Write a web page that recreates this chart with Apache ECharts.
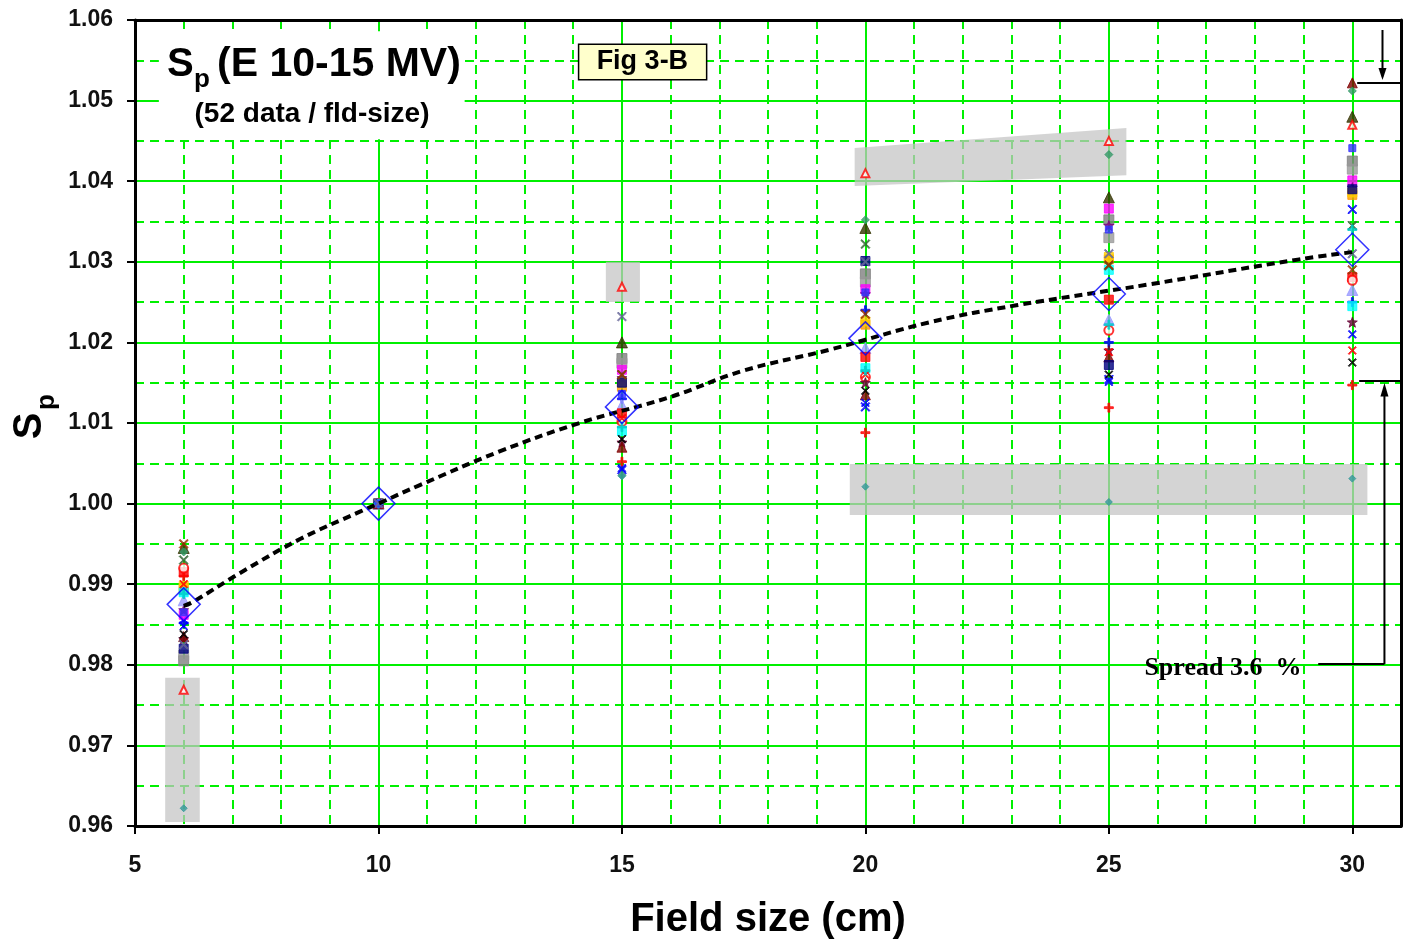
<!DOCTYPE html>
<html>
<head>
<meta charset="utf-8">
<script src="https://cdn.jsdelivr.net/npm/echarts/dist/echarts.min.js"></script>
<style>html,body{margin:0;padding:0;background:#fff}#c{width:1408px;height:945px}</style>
</head>
<body>
<div id="c"></div>
<script>
// ---------------- DATA ----------------
const fieldSizes = [6, 10, 15, 20, 25, 30];
const meanSp = [0.9875, 1.0000, 1.0120, 1.0205, 1.0260, 1.0315];
const fitSize = [6.0, 6.19, 7.16, 8.39, 9.62, 10.0, 10.85, 12.5, 14.13, 15.98, 17.5, 19.27, 21.32, 23.1, 25.83, 28.91, 30.0];
const fitSp = [0.9873, 0.9878, 0.9914, 0.9956, 0.9990, 1.0000, 1.0023, 1.0065, 1.0100, 1.0132, 1.0165, 1.0191, 1.0225, 1.0246, 1.0272, 1.0303, 1.0312];
const xTicks = [5, 10, 15, 20, 25, 30];
const yTicks = [0.96, 0.97, 0.98, 0.99, 1.00, 1.01, 1.02, 1.03, 1.04, 1.05, 1.06];

// individual measurement sets (Sp at 6,10,15,20,25,30 cm)
const spA = [0.9910, 1.0000, 1.0052, 1.0088, 1.0119, 1.0147];
const spB = [0.9852, 1.0000, 1.0130, 1.0240, 1.0200, 1.0250];
const spC = [0.9856, 1.0000, 1.0042, 1.0120, 1.0154, 1.0365];
const spD = [0.9945, 1.0000, 1.0200, 1.0342, 1.0380, 1.0480];
const spE = [0.9805, 1.0000, 1.0180, 1.0285, 1.0352, 1.0425];
const spF = [0.9812, 1.0000, 1.0174, 1.0275, 1.0330, 1.0415];
const spG = [0.9862, 1.0000, 1.0166, 1.0266, 1.0366, 1.0401];
const spH = [0.9868, 1.0000, 1.0156, 1.0260, 1.0345, 1.0392];
const spI = [0.9895, 1.0000, 1.0145, 1.0222, 1.0303, 1.0383];
const spJ = [0.9898, 1.0000, 1.0150, 1.0226, 1.0306, 1.0386];
const spK = [0.9880, 1.0000, 1.0122, 1.0193, 1.0228, 1.0265];
const spL = [0.9915, 1.0000, 1.0112, 1.0182, 1.0253, 1.0281];
const spM = [0.9920, 1.0000, 1.0102, 1.0157, 1.0215, 1.0277];
const spN = [0.9890, 1.0000, 1.0090, 1.0168, 1.0290, 1.0245];
const spO = [0.9832, 1.0000, 1.0076, 1.0150, 1.0190, 1.0225];
const spP = [0.9835, 1.0000, 1.0070, 1.0135, 1.0182, 1.0522];
const spQ = [0.9820, 1.0000, 1.0150, 1.0301, 1.0172, 1.0390];
const spR = [0.9940, 1.0000, 1.0035, 1.0352, 1.0433, 1.0512];
const spS = [0.9930, 1.0000, 1.0160, 1.0322, 1.0295, 1.0345];
const spT = [0.9950, 1.0000, 1.0160, 1.0235, 1.0296, 1.0290];
const spU = [0.9838, 1.0000, 1.0080, 1.0140, 1.0160, 1.0175];
const spV = [0.9769, 1.0000, 1.0269, 1.0410, 1.0450, 1.0470];
const spW = [0.9622, 1.0000, 1.0034, 1.0021, 1.0002, 1.0031];
const spX = [0.9848, 1.0000, 1.0044, 1.0125, 1.0151, 1.0210];
const spY = [0.9900, 1.0000, 1.0106, 1.0160, 1.0188, 1.0190];
const spZ = [0.9888, 1.0000, 1.0095, 1.0165, 1.0222, 1.0340];
const spAA = [0.9865, 1.0000, 1.0136, 1.0262, 1.0340, 1.0441];
const spAB = [0.9825, 1.0000, 1.0232, 1.0300, 1.0310, 1.0310];

// ---------------- STYLE ----------------
const PLUS = 'path://M4,0H6V4H10V6H6V10H4V6H0V4H4Z';
const CROSS = 'path://M1,0L5,4L9,0L10,1L6,5L10,9L9,10L5,6L1,10L0,9L4,5L0,1Z';
const STAR = 'path://M5,0L6.2,3.5L10,3.8L7,6L8.1,10L5,7.7L1.9,10L3,6L0,3.8L3.8,3.5Z';
const sets = [
  [spA, '#ff0000', PLUS, 9], [spB, '#0000ff', PLUS, 9], [spC, '#0000ff', CROSS, 9],
  [spD, '#333300', 'triangle', 11], [spE, '#808080', 'rect', 10], [spF, '#999999', 'rect', 10],
  [spG, '#ff00ff', 'rect', 9], [spH, '#800080', STAR, 10], [spI, '#ff9900', 'rect', 9],
  [spJ, '#ffcc00', 'rect', 9], [spK, '#9999ff', 'triangle', 11], [spL, '#ff0000', 'rect', 9],
  [spM, '#ff0000', 'emptyCircle', 9], [spN, '#00ffff', 'rect', 9], [spO, '#660033', STAR, 10],
  [spP, '#800000', 'triangle', 10], [spQ, '#000080', 'rect', 9], [spR, '#339966', 'diamond', 8],
  [spS, '#336633', CROSS, 9], [spT, '#993300', CROSS, 9], [spU, '#000000', CROSS, 8],
  [spV, '#ff0000', 'emptyTriangle', 8], [spW, '#339999', 'diamond', 7], [spX, '#0000ff', CROSS, 8],
  [spY, '#ff0000', CROSS, 8], [spZ, '#00cccc', PLUS, 9], [spAA, '#3333ff', 'rect', 7],
  [spAB, '#666699', CROSS, 9]
];

const FONT = 'Liberation Sans, Arial, sans-serif';
const GREEN = '#00f000';

const series = sets.map(function (s, i) {
  return {
    type: 'scatter', name: 'set' + i, z: 3,
    symbol: s[2], symbolSize: s[3],
    itemStyle: { color: s[1], borderColor: s[1] },
    data: fieldSizes.map(function (x, j) { return [x, s[0][j]]; }),
    silent: true
  };
});
series.push({
  type: 'line', name: 'fit', z: 4, showSymbol: false, smooth: 0.4,
  lineStyle: { color: '#000', width: 4, type: [8, 5] },
  data: fitSize.map(function (x, j) { return [x, fitSp[j]]; })
});
series.push({
  type: 'scatter', name: 'mean', z: 5, symbol: 'diamond', symbolSize: [33, 33],
  itemStyle: { color: 'rgba(0,0,0,0)', borderColor: '#0000ff', borderWidth: 1.5 },
  data: fieldSizes.map(function (x, j) { return [x, meanSp[j]]; })
});

const option = {
  backgroundColor: '#fff',
  animation: false,
  grid: { left: 135, right: 7, top: 20, bottom: 119, containLabel: false, outerBoundsMode: 'none' },
  xAxis: [{
    type: 'value', min: xTicks[0], max: 31, interval: 5, position: 'bottom',
    axisLine: { lineStyle: { color: '#000', width: 3 } },
    axisTick: { length: 8, lineStyle: { color: '#000', width: 2 } },
    axisLabel: { showMaxLabel: false, margin: 28, fontSize: 23, fontWeight: 'bold', color: '#111', fontFamily: FONT,
      formatter: function (v) { return xTicks.indexOf(v) >= 0 ? String(v) : ''; } },
    splitLine: { show: true, lineStyle: { color: GREEN, width: 2 } },
    name: 'Field size (cm)', nameLocation: 'middle', nameGap: 74,
    nameTextStyle: { fontSize: 40, fontWeight: 'bold', color: '#000', fontFamily: FONT }
  }, {
    type: 'value', min: xTicks[0], max: 31, interval: 1, position: 'top',
    axisLine: { lineStyle: { color: '#000', width: 3 } },
    axisTick: { show: false }, axisLabel: { show: false },
    splitLine: { show: true, lineStyle: { color: GREEN, width: 2, type: [9, 6] } }
  }],
  yAxis: [{
    type: 'value', min: yTicks[0], max: yTicks[yTicks.length - 1], interval: 0.01,
    axisLine: { lineStyle: { color: '#000', width: 3 } },
    axisTick: { length: 8, lineStyle: { color: '#000', width: 2 } },
    axisLabel: { margin: 22, fontSize: 23, fontWeight: 'bold', color: '#111', fontFamily: FONT,
      formatter: function (v) { return v.toFixed(2); } },
    splitLine: { show: true, lineStyle: { color: GREEN, width: 2 } }
  }, {
    type: 'value', min: yTicks[0], max: yTicks[yTicks.length - 1], interval: 0.005, position: 'right',
    axisLine: { show: true, lineStyle: { color: '#000', width: 3 } },
    axisTick: { show: false }, axisLabel: { show: false },
    splitLine: { show: true, lineStyle: { color: GREEN, width: 2, type: [9, 6] } }
  }],
  series: series
};

const chart = echarts.init(document.getElementById('c'), null, { renderer: 'canvas' });
chart.setOption(option);

function P(x, y) { return chart.convertToPixel({ xAxisIndex: 0, yAxisIndex: 0 }, [x, y]); }
function rectD(x1, y1, x2, y2, style, z) {
  const a = P(x1, y2), b = P(x2, y1);
  return { type: 'rect', z: z, shape: { x: a[0], y: a[1], width: b[0] - a[0], height: b[1] - a[1] }, style: style };
}
function lineD(x1, y1, x2, y2) {
  const a = P(x1, y1), b = P(x2, y2);
  return { type: 'line', z: 20, shape: { x1: a[0], y1: a[1], x2: b[0], y2: b[1] }, style: { stroke: '#000', lineWidth: 2 } };
}
const GRAY = { fill: 'rgba(195,195,195,0.72)' };
const g = [];
// highlighted outlier regions
g.push(rectD(5.62, 0.9605, 6.33, 0.9784, GRAY, 1));
g.push(rectD(14.67, 1.0250, 15.37, 1.0300, GRAY, 1));
g.push(rectD(19.68, 0.99859, 30.31, 1.00491, GRAY, 1));
g.push({ type: 'polygon', z: 1, shape: { points: [P(19.78, 1.04412), P(25.36, 1.04660), P(25.36, 1.04073), P(19.78, 1.03940)] }, style: GRAY });
// white title backdrop
g.push(rectD(5.49, 1.0452, 11.77, 1.0586, { fill: '#fff' }, 1));
// Fig 3-B box
g.push(rectD(14.11, 1.0526, 16.74, 1.0570, { fill: '#ffffcc', stroke: '#000', lineWidth: 1.5 }, 6));
const fb = P(15.42, 1.0548);
g.push({ type: 'text', z: 21, x: fb[0], y: fb[1], style: { text: 'Fig 3-B', fontSize: 27, fontWeight: 'bold', fontFamily: FONT, fill: '#000', align: 'center', verticalAlign: 'middle' } });
// title
g.push({ type: 'text', z: 21, x: 167, y: 65, style: { text: 'S', fontSize: 40, fontWeight: 'bold', fontFamily: FONT, fill: '#000', verticalAlign: 'middle' } });
g.push({ type: 'text', z: 21, x: 194, y: 80, style: { text: 'p', fontSize: 26, fontWeight: 'bold', fontFamily: FONT, fill: '#000', verticalAlign: 'middle' } });
g.push({ type: 'text', z: 21, x: 217, y: 65, style: { text: '(E 10-15 MV)', fontSize: 41, fontWeight: 'bold', fontFamily: FONT, fill: '#000', verticalAlign: 'middle' } });
g.push({ type: 'text', z: 21, x: 312, y: 114, style: { text: '(52 data / fld-size)', fontSize: 28, fontWeight: 'bold', fontFamily: FONT, fill: '#000', align: 'center', verticalAlign: 'middle' } });
// y-axis title
g.push({ type: 'text', z: 21, x: 30, y: 426, rotation: Math.PI / 2, style: { text: 'S', fontSize: 40, fontWeight: 'bold', fontFamily: FONT, fill: '#000', align: 'center', verticalAlign: 'middle' } });
g.push({ type: 'text', z: 21, x: 47, y: 402, rotation: Math.PI / 2, style: { text: 'p', fontSize: 26, fontWeight: 'bold', fontFamily: FONT, fill: '#000', align: 'center', verticalAlign: 'middle' } });
// spread annotation
g.push(lineD(30.10, 1.05218, 31.0, 1.05218));
g.push(lineD(30.62, 1.05876, 30.62, 1.0530));
(function () {
  const t = P(30.62, 1.05256), b = P(30.62, 1.05405);
  g.push({ type: 'polygon', z: 20, shape: { points: [[t[0], t[1]], [b[0] - 4, b[1]], [b[0] + 4, b[1]]] }, style: { fill: '#000' } });
})();
g.push(lineD(30.14, 1.01521, 31.0, 1.01521));
g.push(lineD(30.66, 0.98010, 30.66, 1.0140));
(function () {
  const t = P(30.66, 1.01496), b = P(30.66, 1.01330);
  g.push({ type: 'polygon', z: 20, shape: { points: [[t[0], t[1]], [b[0] - 4, b[1]], [b[0] + 4, b[1]]] }, style: { fill: '#000' } });
})();
g.push(lineD(29.30, 0.98010, 30.66, 0.98010));
const sp = P(25.73, 0.97960);
g.push({ type: 'text', z: 21, x: sp[0], y: sp[1], style: { text: 'Spread 3.6  %', fontSize: 26, fontWeight: 'bold', fontFamily: 'Liberation Serif, Times New Roman, serif', fill: '#000', verticalAlign: 'middle' } });

chart.setOption({ graphic: g });
</script>
</body>
</html>
